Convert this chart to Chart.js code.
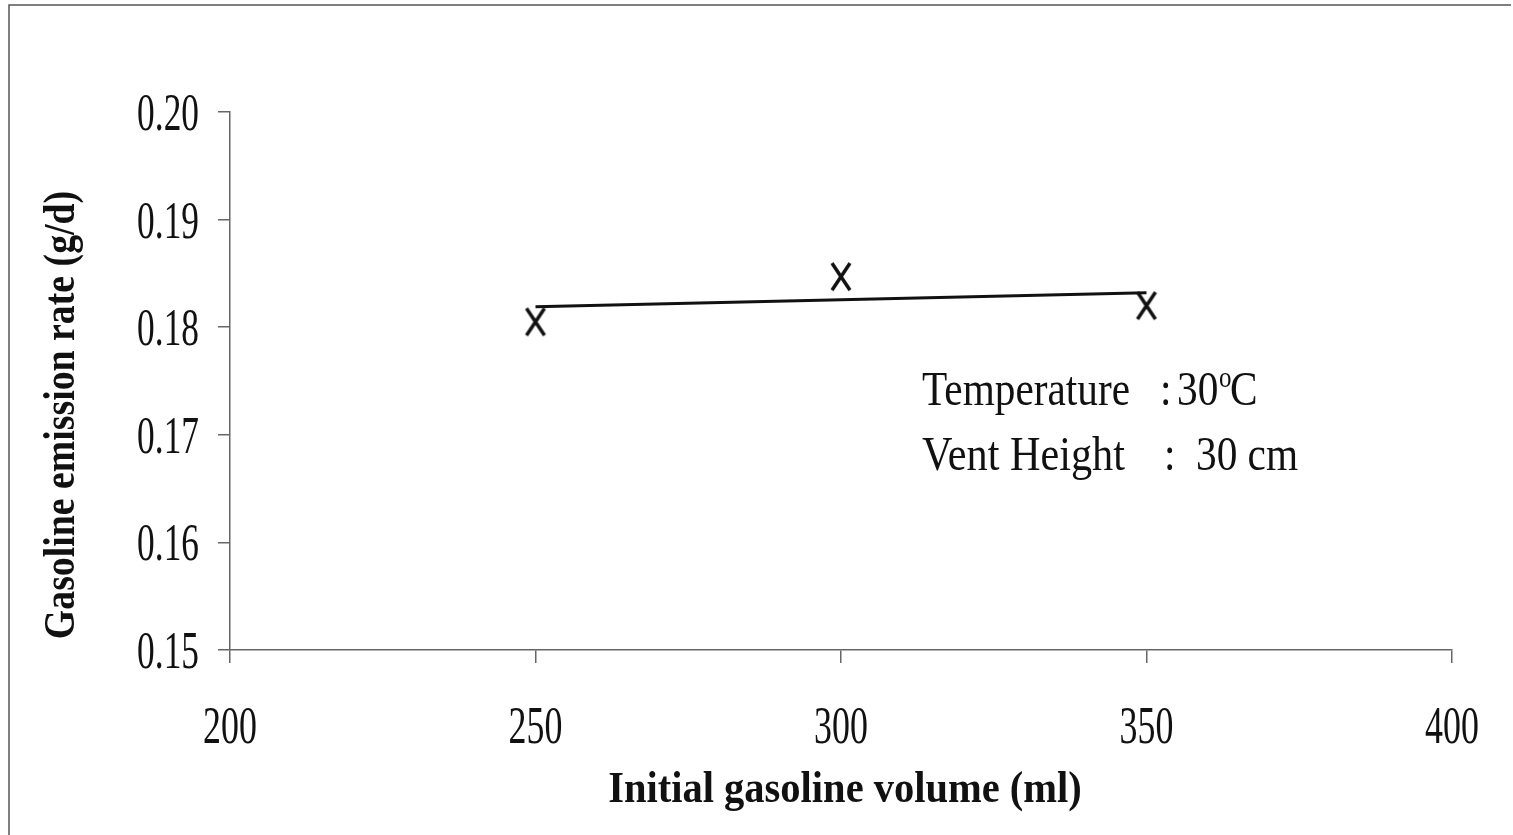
<!DOCTYPE html>
<html>
<head>
<meta charset="utf-8">
<script src="https://cdn.jsdelivr.net/npm/chart.js@4"></script>
<style>
  html, body { margin: 0; padding: 0; background: #fff; }
  #wrap { width: 1513px; height: 835px; position: relative; }
</style>
</head>
<body>
<div id="wrap"><canvas id="emissionChart"></canvas></div>
<script>
// data
var volumes = [250, 300, 350];
var emissionRates = [0.1805, 0.1847, 0.1820];
var trendVolumes = [250, 350];
var trendRates = [0.1819, 0.1832];
var xTickLabels = ['200', '250', '300', '350', '400'];
var yTickLabels = ['0.15', '0.16', '0.17', '0.18', '0.19', '0.20'];

var axisColor = '#666666';
var serif = '"Liberation Serif", "Times New Roman", serif';

// X marker, a bit taller than wide like the original
var cross = document.createElement('canvas');
cross.width = 24; cross.height = 31;
var cc = cross.getContext('2d');
cc.strokeStyle = '#111';
cc.lineWidth = 3.5;
cc.lineCap = 'butt';
cc.beginPath();
cc.moveTo(3, 2); cc.lineTo(21, 29);
cc.moveTo(21, 2); cc.lineTo(3, 29);
cc.stroke();

function squeezedText(ctx, text, x, y, sx, align, rot) {
  ctx.save();
  ctx.translate(x, y);
  if (rot) ctx.rotate(rot);
  ctx.scale(sx, 1);
  ctx.textAlign = align;
  ctx.fillText(text, 0, 0);
  ctx.restore();
}

// text drawn condensed, as in the scanned figure
var textPlugin = {
  id: 'condensedText',
  afterDraw: function(chart) {
    var ctx = chart.ctx;
    var xs = chart.scales.x, ys = chart.scales.y;
    ctx.save();
    ctx.fillStyle = '#111';
    ctx.textBaseline = 'alphabetic';

    // frame
    ctx.strokeStyle = '#555';
    ctx.lineWidth = 1.5;
    ctx.beginPath();
    ctx.moveTo(9, 835); ctx.lineTo(9, 5); ctx.lineTo(1511, 5);
    ctx.stroke();

    // tick labels
    ctx.font = '52px ' + serif;
    ys.ticks.forEach(function(t, i) {
      squeezedText(ctx, t.label, 199, ys.getPixelForTick(i) + 18, 0.68, 'right');
    });
    xs.ticks.forEach(function(t, i) {
      squeezedText(ctx, t.label, xs.getPixelForTick(i), 743, 0.69, 'center');
    });

    // axis titles
    ctx.font = 'bold 45px ' + serif;
    squeezedText(ctx, 'Initial gasoline volume (ml)', 845, 802, 0.9, 'center');
    squeezedText(ctx, 'Gasoline emission rate (g/d)', 74, 415, 0.84, 'center', -Math.PI / 2);

    // conditions note
    ctx.font = '48px ' + serif;
    squeezedText(ctx, 'Temperature', 922, 405, 0.86, 'left');
    squeezedText(ctx, ':', 1160, 405, 0.86, 'left');
    squeezedText(ctx, '30', 1177, 405, 0.86, 'left');
    ctx.font = '29px ' + serif;
    squeezedText(ctx, 'o', 1219, 387, 0.86, 'left');
    ctx.font = '48px ' + serif;
    squeezedText(ctx, 'C', 1230, 405, 0.86, 'left');

    squeezedText(ctx, 'Vent Height', 922, 470, 0.88, 'left');
    squeezedText(ctx, ':', 1164, 470, 0.86, 'left');
    squeezedText(ctx, '30 cm', 1196, 470, 0.86, 'left');
    ctx.restore();
  }
};

var ctx = document.getElementById('emissionChart').getContext('2d');
var emissionChart = new Chart(ctx, {
  type: 'scatter',
  data: {
    datasets: [{
      label: 'Measured',
      data: volumes.map(function(v, i) { return { x: v, y: emissionRates[i] }; }),
      pointStyle: cross,
      pointRadius: 12,
      showLine: false
    }, {
      label: 'Trend',
      type: 'line',
      data: trendVolumes.map(function(v, i) { return { x: v, y: trendRates[i] }; }),
      borderColor: '#111',
      borderWidth: 3,
      pointRadius: 0,
      fill: false
    }]
  },
  options: {
    responsive: true,
    maintainAspectRatio: false,
    animation: false,
    layout: { padding: { top: 112, right: 61, left: 0, bottom: 0 } },
    plugins: {
      legend: { display: false },
      tooltip: { enabled: false }
    },
    scales: {
      x: {
        type: 'linear',
        min: 200,
        max: 400,
        ticks: {
          stepSize: 50,
          display: false,
          callback: function(v, i) { return xTickLabels[i]; }
        },
        grid: { drawOnChartArea: false, drawTicks: true, tickLength: 13, color: axisColor, lineWidth: 1.5 },
        border: { color: axisColor, width: 1.5 },
        afterFit: function(scale) { scale.height = 185; }
      },
      y: {
        min: 0.15,
        max: 0.20,
        ticks: {
          stepSize: 0.01,
          display: false,
          callback: function(v, i) { return yTickLabels[i]; }
        },
        grid: { drawOnChartArea: false, drawTicks: true, tickLength: 12, color: axisColor, lineWidth: 1.5 },
        border: { color: axisColor, width: 1.5 },
        afterFit: function(scale) { scale.width = 230; }
      }
    }
  },
  plugins: [textPlugin]
});
</script>
</body>
</html>
